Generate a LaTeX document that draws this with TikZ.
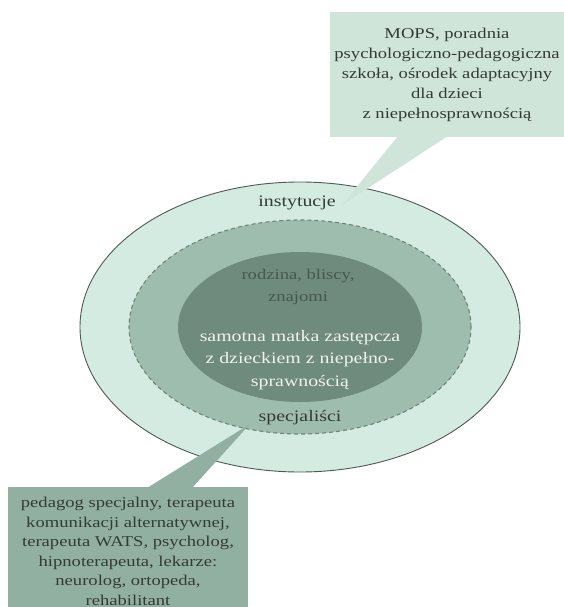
\documentclass[tikz,border=0pt]{standalone}
\usepackage{fontspec}
\setmainfont{Liberation Serif}[FakeStretch=1.24]
\usetikzlibrary{shapes.geometric}
\definecolor{outerc}{HTML}{D3EBE0}
\definecolor{midc}{HTML}{9FBDAF}
\definecolor{innerc}{HTML}{6E8B7D}
\definecolor{edgec}{HTML}{4F5955}
\definecolor{dashc}{HTML}{6F857A}
\definecolor{topboxc}{HTML}{CFE5DA}
\definecolor{botboxc}{HTML}{91B0A2}
\definecolor{txtc}{HTML}{333B37}
\definecolor{dimtxt}{HTML}{46594F}
\definecolor{lighttxt}{HTML}{EEF3F0}
\tikzset{
  ring/.style={ellipse, inner sep=0pt, outer sep=0pt},
  boxtext/.style={align=center, text=txtc, inner sep=0pt, font=\fontsize{15}{20}\selectfont},
  lab/.style={text=txtc, inner sep=0pt, font=\fontsize{16}{20}\selectfont},
}
\begin{document}
\begin{tikzpicture}[x=1pt,y=-1pt]
\useasboundingbox (0,0) rectangle (564,607);
\fill[white] (0,0) rectangle (564,607);
% ellipses
\node[ring, minimum width=440pt, minimum height=290pt, fill=outerc, draw=edgec, line width=0.9pt] (outer) at (300,327) {};
\node[ring, minimum width=342pt, minimum height=214pt, fill=midc, draw=dashc, line width=1.1pt, dash pattern=on 4pt off 3pt] (middle) at (300,327) {};
\node[ring, minimum width=244pt, minimum height=150pt, fill=innerc] (inner) at (300,327) {};
% labels
\node[lab] (inst) at (297,203) {instytucje};
\node[lab] (spec) at (300,418) {specjaliści};
\node[lab, align=center, text=dimtxt, font=\fontsize{15}{22}\selectfont] (rodz) at (298,287) {rodzina, bliscy,\\znajomi};
\node[lab, align=center, text=lighttxt, font=\fontsize{16}{22.5}\selectfont] (mother) at (300,360) {samotna matka zastępcza\\z dzieckiem z niepełno-\\sprawnością};
% top callout
\node[fill=topboxc, minimum width=236pt, minimum height=125pt, inner sep=0pt] (topbox) at (448,74.5) {};
\coordinate (ttipa) at (398,136);
\coordinate (ttipb) at (448,136);
\coordinate (ttip) at (342,205);
\fill[topboxc] (ttipa) -- (ttipb) -- (ttip) -- cycle;
\node[boxtext] (toptext) at (447,74.5) {MOPS, poradnia\\psychologiczno-pedagogiczna\\szkoła, ośrodek adaptacyjny\\dla dzieci\\z niepełnosprawnością};
% bottom callout
\node[fill=botboxc, minimum width=240pt, minimum height=130pt, inner sep=0pt, anchor=north west] (botbox) at (8,487) {};
\coordinate (btipa) at (147,488);
\coordinate (btipb) at (192,488);
\coordinate (btip) at (250,424);
\fill[botboxc] (btipa) -- (btipb) -- (btip) -- cycle;
\node[boxtext, font=\fontsize{15}{19.5}\selectfont, anchor=north] (bottext) at (128,497) {pedagog specjalny, terapeuta\\komunikacji alternatywnej,\\terapeuta WATS, psycholog,\\hipnoterapeuta, lekarze:\\neurolog, ortopeda,\\rehabilitant};
\end{tikzpicture}
\end{document}
